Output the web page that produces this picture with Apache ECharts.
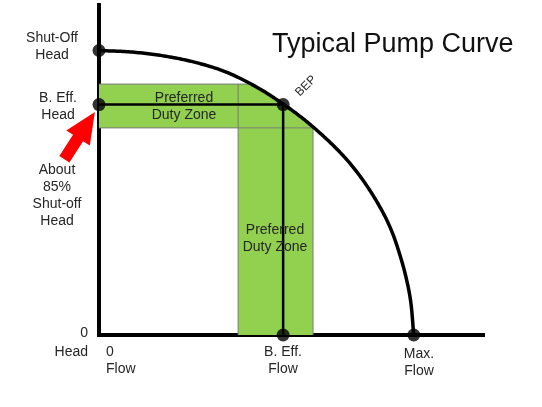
<!DOCTYPE html>
<html><head><meta charset="utf-8">
<script src="https://cdn.jsdelivr.net/npm/echarts@6/dist/echarts.min.js"></script>
<style>html,body{margin:0;padding:0;background:#fff}#c{width:542px;height:407px}</style>
</head><body><div id="c"></div>
<script>
// Pump curve (flow: % of max flow, head: % of shut-off head)
const curveFlow = [0, 10, 20, 30, 40, 50, 58.5, 65, 70, 75, 80, 85, 90, 93, 95.5, 97.5, 99, 100];
const curveHead = [100, 99.5, 98.2, 96, 92.6, 87.2, 81.2, 75.9, 71.2, 66, 60, 52.6, 43.5, 36.5, 28.5, 20.5, 12, 0];
// Preferred duty zone bands
const bandHead = [72.8, 88.2];   // horizontal band: bottom, top
const bandFlow = [44.2, 68];     // vertical band: left, right
// Best efficiency point
const bep = [58.5, 81];
const shutOff = [0, 100];
const maxFlow = [100, 0];
// Red arrow (tip, tail)
const arrowTip = [-1.3, 78.4];
const arrowTail = [-11, 61.8];

const curve = curveFlow.map((f, i) => [f, curveHead[i]]);
function headAt(f) {
  for (let i = 1; i < curve.length; i++) {
    if (f <= curve[i][0]) {
      const a = curve[i - 1], b = curve[i];
      return a[1] + (b[1] - a[1]) * (f - a[0]) / (b[0] - a[0]);
    }
  }
  return 0;
}
function flowAtHead(h) {
  for (let i = 1; i < curve.length; i++) {
    if (h >= curve[i][1]) {
      const a = curve[i - 1], b = curve[i];
      return a[0] + (b[0] - a[0]) * (a[1] - h) / (a[1] - b[1]);
    }
  }
  return 100;
}
const xTop = flowAtHead(bandHead[1]);
const green = [[0, bandHead[1]], [xTop, bandHead[1]]];
curve.forEach(p => { if (p[0] > xTop && p[0] < bandFlow[1]) green.push(p); });
green.push([bandFlow[1], headAt(bandFlow[1])], [bandFlow[1], 0], [bandFlow[0], 0], [bandFlow[0], bandHead[0]], [0, bandHead[0]]);

const grayLines = [
  [[0, bandHead[1]], [xTop, bandHead[1]]],
  [[0, bandHead[0]], [bandFlow[1], bandHead[0]]],
  [[bandFlow[0], 0], [bandFlow[0], bandHead[1]]],
  [[bandFlow[1], 0], [bandFlow[1], bandHead[0]]]
];
const blackLines = [
  [[0, bep[1]], bep],
  [bep, [bep[0], 0]]
];

// centripetal Catmull-Rom through pixel points (drawing only)
function spline(P) {
  const out = [P[0]];
  const ext = [[2 * P[0][0] - P[1][0], 2 * P[0][1] - P[1][1]]].concat(P,
    [[2 * P[P.length - 1][0] - P[P.length - 2][0], 2 * P[P.length - 1][1] - P[P.length - 2][1]]]);
  const lerp = (a, b, ta, tb, t) => [a[0] + (b[0] - a[0]) * (t - ta) / (tb - ta), a[1] + (b[1] - a[1]) * (t - ta) / (tb - ta)];
  for (let i = 1; i < ext.length - 2; i++) {
    const p0 = ext[i - 1], p1 = ext[i], p2 = ext[i + 1], p3 = ext[i + 2];
    const d = (a, b) => Math.max(Math.pow(Math.hypot(b[0] - a[0], b[1] - a[1]), 0.5), 1e-4);
    const t0 = 0, t1 = t0 + d(p0, p1), t2 = t1 + d(p1, p2), t3 = t2 + d(p2, p3);
    const n = 16;
    for (let k = 1; k <= n; k++) {
      const t = t1 + (t2 - t1) * k / n;
      const A1 = lerp(p0, p1, t0, t1, t), A2 = lerp(p1, p2, t1, t2, t), A3 = lerp(p2, p3, t2, t3, t);
      const B1 = lerp(A1, A2, t0, t2, t), B2 = lerp(A2, A3, t1, t3, t);
      out.push(lerp(B1, B2, t1, t2, t));
    }
  }
  return out;
}

const chart = echarts.init(document.getElementById('c'), null, { renderer: 'canvas' });
const series = [];
series.push({
  type: 'custom', z: 1, silent: true, clip: false, data: [[0, 0]],
  renderItem: (params, api) => ({
    type: 'polygon',
    shape: { points: green.map(p => api.coord(p)) },
    style: { fill: '#92d050', stroke: null }
  })
});
grayLines.forEach(seg => series.push({
  type: 'line', z: 2, data: seg, symbol: 'none', silent: true,
  lineStyle: { color: '#7a7a7a', width: 1 }
}));
blackLines.forEach(seg => series.push({
  type: 'line', z: 3, data: seg, symbol: 'none', silent: true,
  lineStyle: { color: '#000', width: 2.5 }
}));
series.push({
  type: 'custom', z: 4, silent: true, clip: false, data: curve,
  renderItem: (params, api) => {
    if (params.dataIndexInside !== 0) return null;
    return {
      type: 'polyline',
      shape: { points: spline(curve.map(p => api.coord(p))) },
      style: { stroke: '#000', lineWidth: 3.5, fill: null, lineJoin: 'round' }
    };
  }
});
series.push({
  type: 'scatter', z: 5, data: [shutOff, bep.slice(), [0, bep[1]], [bep[0], 0], maxFlow],
  symbol: 'circle', symbolSize: 13, itemStyle: { color: '#000' }, silent: true
});
series.push({
  type: 'custom', z: 6, silent: true, clip: false, data: [[0, 0]],
  renderItem: (params, api) => {
    const t = api.coord(arrowTip), s = api.coord(arrowTail);
    const dx = t[0] - s[0], dy = t[1] - s[1], len = Math.hypot(dx, dy);
    const ux = dx / len, uy = dy / len, nx = -uy, ny = ux;
    const L = 31, hw = 14, sw = 6;
    const bx = t[0] - ux * L, by = t[1] - uy * L;
    const pts = [
      [s[0] + nx * sw, s[1] + ny * sw], [bx + nx * sw, by + ny * sw], [bx + nx * hw, by + ny * hw],
      t, [bx - nx * hw, by - ny * hw], [bx - nx * sw, by - ny * sw], [s[0] - nx * sw, s[1] - ny * sw]
    ];
    return { type: 'polygon', shape: { points: pts }, style: { fill: '#ff0000' } };
  }
});

const F = "'Liberation Sans', Arial, sans-serif";
function txt(text, x, y, align, size, extra) {
  return Object.assign({
    type: 'text', x: x, y: y, z: 10, silent: true,
    style: { text: text, font: size + 'px ' + F, fill: '#262626', textAlign: align, textVerticalAlign: 'middle', lineHeight: 17 }
  }, extra || {});
}

chart.setOption({
  animation: false,
  backgroundColor: '#fff',
  grid: { left: 99, right: 59, top: 5, bottom: 72, outerBoundsMode: 'none' },
  xAxis: {
    type: 'value', min: 0, max: 122,
    axisLine: { show: true, onZero: false, lineStyle: { color: '#000', width: 4, cap: 'square' } },
    axisTick: { show: false }, axisLabel: { show: false }, splitLine: { show: false }
  },
  yAxis: {
    type: 'value', min: 0, max: 116,
    axisLine: { show: true, onZero: false, lineStyle: { color: '#000', width: 4, cap: 'square' } },
    axisTick: { show: false }, axisLabel: { show: false }, splitLine: { show: false }
  },
  series: series,
  graphic: [
    txt('Typical Pump Curve', 272, 45, 'left', 27, { style: { text: 'Typical Pump Curve', font: '27px ' + F, fill: '#111', textAlign: 'left', textVerticalAlign: 'middle' } }),
    txt('Shut-Off\nHead', 52, 47, 'center', 14),
    txt('B. Eff.\nHead', 58, 107, 'center', 14),
    txt('About\n85%\nShut-off\nHead', 57, 196, 'center', 14),
    txt('0', 88, 333, 'right', 14),
    txt('Head', 88, 352, 'right', 14),
    txt('0\nFlow', 106, 361, 'left', 14),
    txt('B. Eff.\nFlow', 283, 361, 'center', 14),
    txt('Max.\nFlow', 419, 363, 'center', 14),
    txt('Preferred\nDuty Zone', 184, 107, 'center', 14),
    txt('Preferred\nDuty Zone', 275, 239, 'center', 14),
    txt('BEP', 306, 86, 'center', 12, { rotation: Math.PI / 4 })
  ]
});
</script></body></html>
